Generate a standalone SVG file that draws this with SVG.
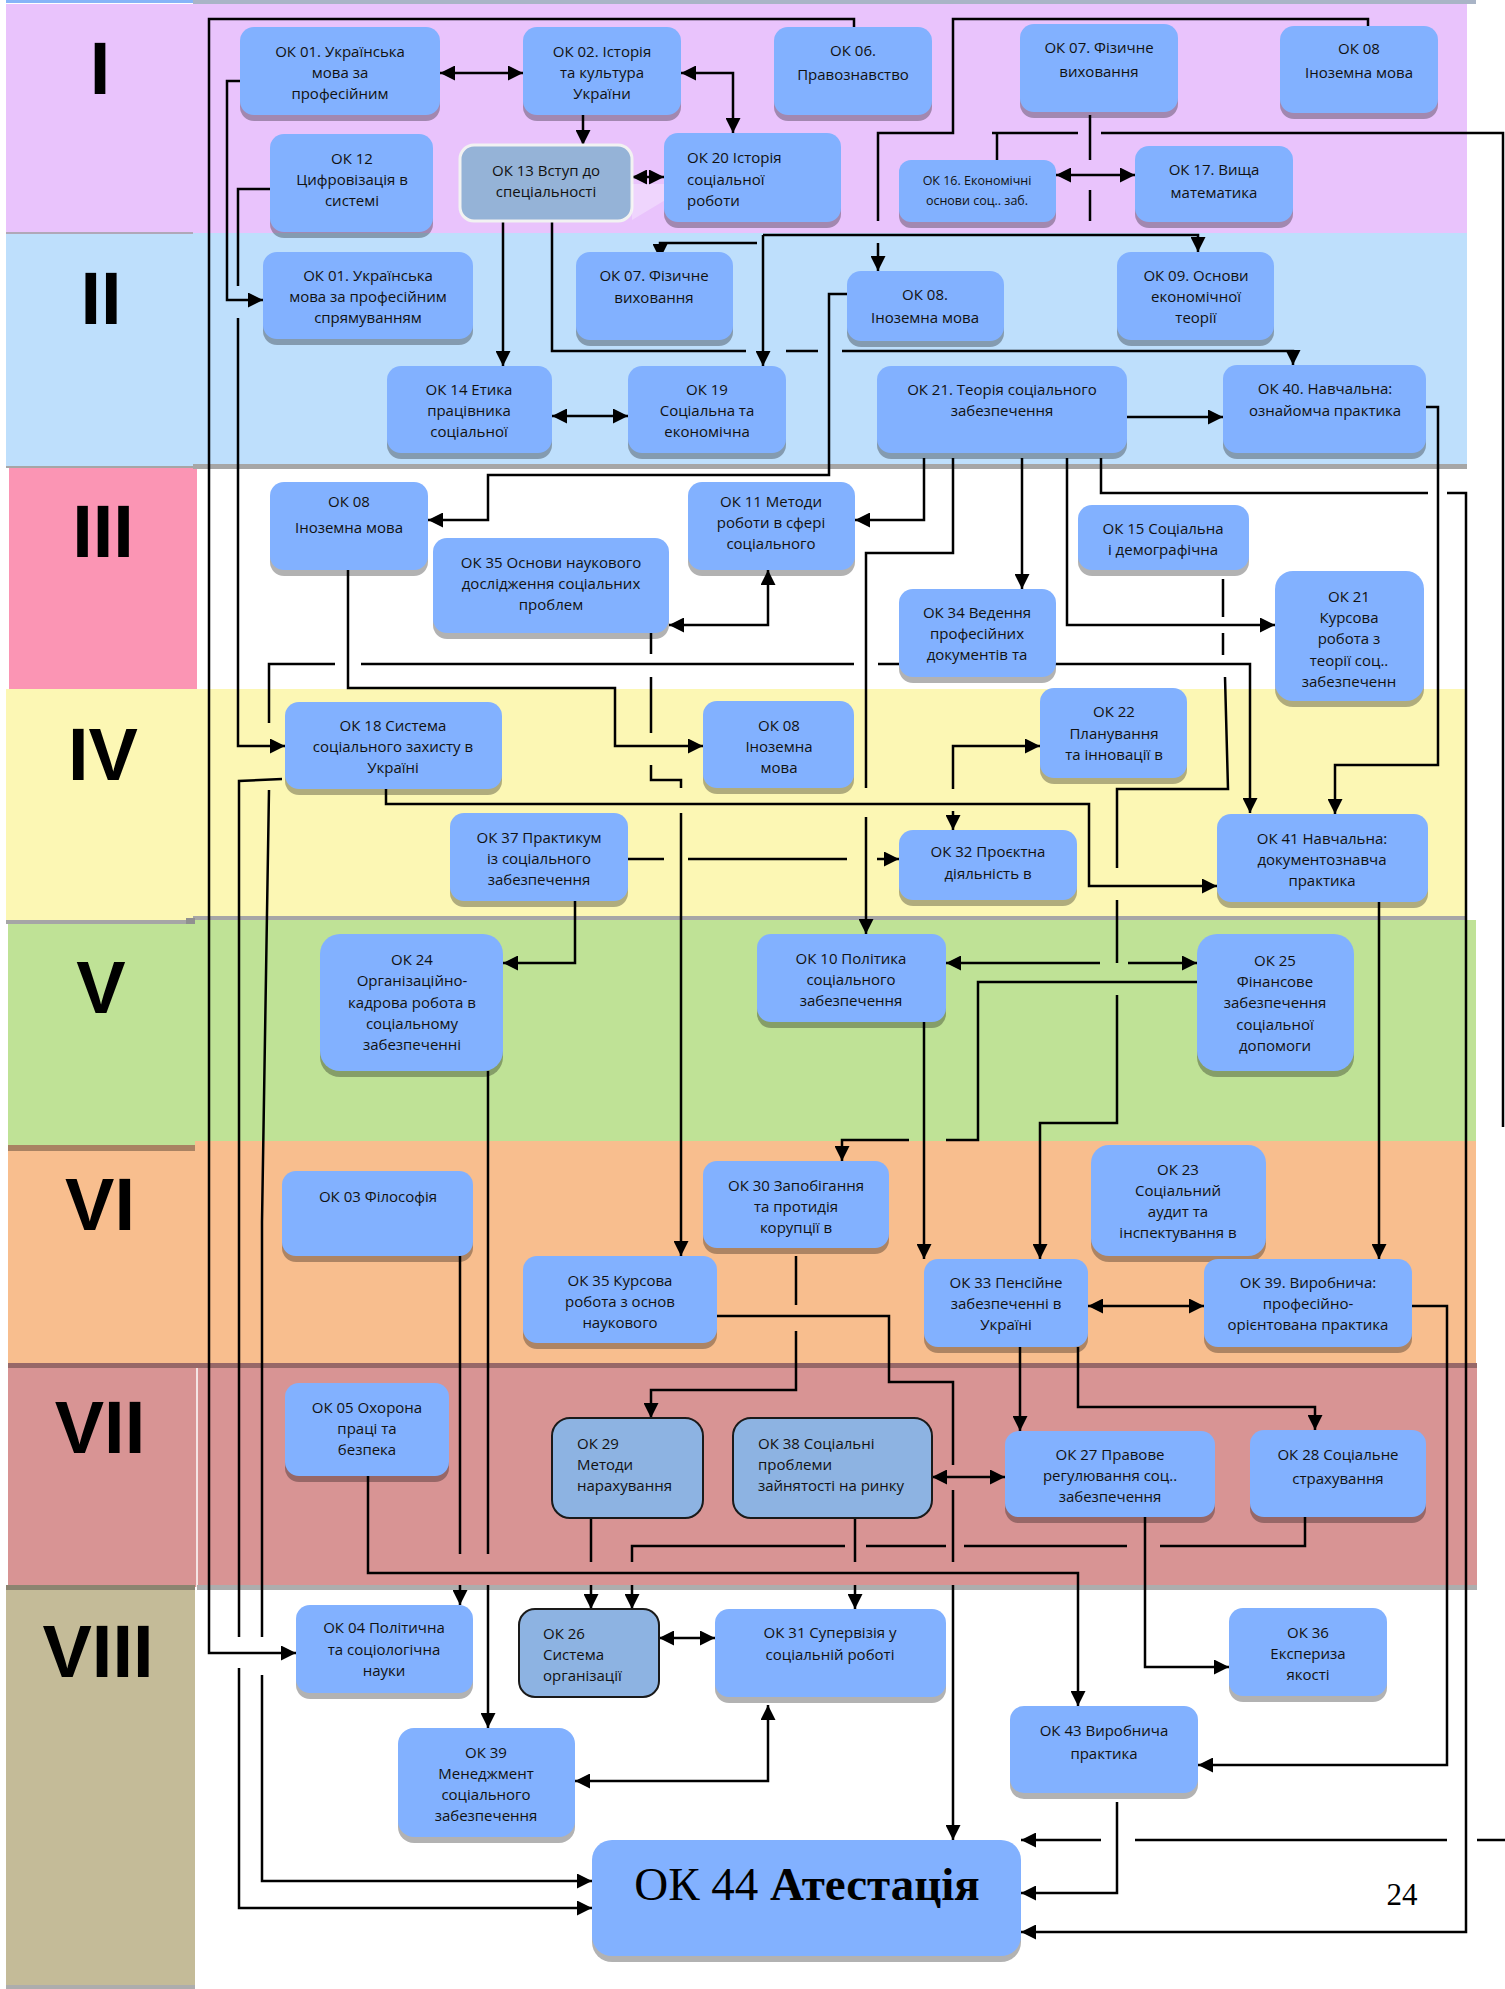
<svg xmlns="http://www.w3.org/2000/svg" width="1505" height="1989" viewBox="0 0 1505 1989">
<style>
.n{fill:#82B1FF}
.sh{fill:#000;opacity:.3}
.o{fill:#8DB3E2;stroke:#1A1A1A;stroke-width:2}
.t{font-family:"Open Sans","Liberation Sans",sans-serif;font-size:15px;fill:#111;text-anchor:middle}
.tl{font-family:"Open Sans","Liberation Sans",sans-serif;font-size:15px;fill:#111;text-anchor:start}
.rn{font-family:"Liberation Sans",Arial,sans-serif;font-weight:bold;font-size:74px;fill:#000;text-anchor:middle}
.c path{fill:none;stroke:#000;stroke-width:2.5}
</style>
<defs>
<marker id="a" viewBox="0 0 10 10" refX="10" refY="5" markerWidth="15" markerHeight="15" markerUnits="userSpaceOnUse" orient="auto-start-reverse"><path d="M0,0 L10,5 L0,10 z" fill="#000"/></marker>
</defs>
<rect width="1505" height="1989" fill="#fff"/>
<g id="bands">
<rect x="6" y="4" width="1461" height="229" fill="#E9C3FC"/>
<rect x="6" y="233" width="1461" height="234" fill="#BEDFFC"/>
<rect x="9" y="467" width="188" height="222" fill="#FB95B4"/>
<rect x="6" y="689" width="1461" height="231" fill="#FCF7B4"/>
<rect x="8" y="920" width="1468" height="225" fill="#BFE296"/>
<rect x="195" y="1141" width="1281" height="4" fill="#F8BE8E"/>
<rect x="8" y="1145" width="1468" height="221" fill="#F8BE8E"/>
<rect x="8" y="1366" width="1469" height="221" fill="#D89494"/>
<rect x="6" y="1587" width="189" height="400" fill="#C4BB98"/>
<rect x="6" y="0" width="187" height="3" fill="#86B4F8"/>
<rect x="193" y="0" width="1283" height="4" fill="#A9B4C6"/>
<rect x="6" y="232" width="187" height="2" fill="#B0A8B8"/>
<rect x="193" y="464" width="1274" height="5" fill="#A6A6A6"/>
<rect x="6" y="466" width="187" height="2" fill="#A6A6A6"/>
<rect x="193" y="916" width="1274" height="4" fill="#A6A6A6"/>
<rect x="6" y="920" width="189" height="4" fill="#A6A6A6"/>
<rect x="186" y="918" width="9" height="6" fill="#909090"/>
<rect x="8" y="1145" width="187" height="6" fill="#A98262"/>
<rect x="8" y="1363" width="1469" height="5" fill="#976868"/>
<rect x="196" y="1368" width="2" height="219" fill="#F4E4E4"/>
<rect x="6" y="1585" width="189" height="5" fill="#8B8470"/>
<rect x="197" y="1585" width="1280" height="5" fill="#ADADAD"/>
<rect x="6" y="1985" width="189" height="4" fill="#ADADAD"/>
<text class="rn" x="100" y="94">I</text>
<text class="rn" x="101" y="324">II</text>
<text class="rn" x="103" y="557">III</text>
<text class="rn" x="103" y="780">IV</text>
<text class="rn" x="101" y="1013">V</text>
<text class="rn" x="100" y="1230">VI</text>
<text class="rn" x="100" y="1453">VII</text>
<text class="rn" x="98" y="1677">VIII</text>
</g>
<g id="connectors" class="c">
<path d="M854,27 V19 H209 V1653 H296" marker-end="url(#a)"/>
<path d="M1368,26 V19 H953 V133 H878 V221"/>
<path d="M878,243 V271" marker-end="url(#a)"/>
<path d="M1090,115 V160 M1090,190 V221"/>
<path d="M763,235 H1198 V252" marker-end="url(#a)"/>
<path d="M763,235 V366" marker-end="url(#a)"/>
<path d="M757,243 H660 V259" marker-end="url(#a)"/>
<path d="M992,133 H997 V160 M997,133 H1078 M1101,133 H1503 V1127 M1505,1840 H1477 M1447,1840 H1135"/>
<path d="M1101,1840 H1021" marker-end="url(#a)"/>
<path d="M1056,175 H1135" marker-start="url(#a)" marker-end="url(#a)"/>
<path d="M440,73 H523" marker-start="url(#a)" marker-end="url(#a)"/>
<path d="M681,73 H733 V133" marker-start="url(#a)" marker-end="url(#a)"/>
<path d="M583,115 V145" marker-end="url(#a)"/>
<path d="M632,177 H664" marker-start="url(#a)" marker-end="url(#a)"/>
<path d="M503,221 V366" marker-end="url(#a)"/>
<path d="M552,221 V351 H746 M786,351 H818"/>
<path d="M842,351 H1293 V365" marker-end="url(#a)"/>
<path d="M847,294 H829 V475 H488 V520 H428" marker-end="url(#a)"/>
<path d="M552,416 H628" marker-start="url(#a)" marker-end="url(#a)"/>
<path d="M1127,417 H1223" marker-end="url(#a)"/>
<path d="M240,81 H227 V300 H263" marker-end="url(#a)"/>
<path d="M270,189 H238 V286"/>
<path d="M238,318 V746 H285" marker-end="url(#a)"/>
<path d="M282,779 L239,781 V1637"/>
<path d="M239,1668 V1908 H592" marker-end="url(#a)"/>
<path d="M899,664 H878 M854,664 H361 M335,664 H269 V723 M269,790 L262,1222 V1637"/>
<path d="M262,1675 V1881 H592" marker-end="url(#a)"/>
<path d="M348,570 V688 H615 V746 H703" marker-end="url(#a)"/>
<path d="M924,458 V520 H855" marker-end="url(#a)"/>
<path d="M953,458 V553 H866 V788"/>
<path d="M866,817 V934" marker-end="url(#a)"/>
<path d="M1022,458 V589" marker-end="url(#a)"/>
<path d="M1067,458 V625 H1275" marker-end="url(#a)"/>
<path d="M1101,458 V493 H1428 M1447,493 H1466 V1932 H1021" marker-end="url(#a)"/>
<path d="M1426,407 H1438 V765 H1335 V814" marker-end="url(#a)"/>
<path d="M1052,664 H1250 V813" marker-end="url(#a)"/>
<path d="M1223,579 V617 M1223,633 V655 M1225,677 L1228,789 H1117 V868 M1117,900 V963 M1117,995 V1123 H1040 V1259" marker-end="url(#a)"/>
<path d="M386,789 V804 H1089 V886 H1217" marker-end="url(#a)"/>
<path d="M953,789 V746 H1040" marker-end="url(#a)"/>
<path d="M953,811 V830" marker-end="url(#a)"/>
<path d="M628,859 H664 M688,859 H847 M877,859 H899" marker-end="url(#a)"/>
<path d="M575,901 V963 H503" marker-end="url(#a)"/>
<path d="M651,633 V654 M651,677 V733 M651,765 V780 H681 V788"/>
<path d="M681,813 V1256" marker-end="url(#a)"/>
<path d="M669,625 H768 V570" marker-start="url(#a)" marker-end="url(#a)"/>
<path d="M946,963 H1100" marker-start="url(#a)"/>
<path d="M1128,963 H1197" marker-end="url(#a)"/>
<path d="M1197,982 H978 V1140 H946 M909,1140 H842 V1161" marker-end="url(#a)"/>
<path d="M924,1022 V1259" marker-end="url(#a)"/>
<path d="M1379,902 V1259" marker-end="url(#a)"/>
<path d="M1088,1306 H1204" marker-start="url(#a)" marker-end="url(#a)"/>
<path d="M1412,1306 H1447 V1765 H1198" marker-end="url(#a)"/>
<path d="M1020,1347 V1431" marker-end="url(#a)"/>
<path d="M1078,1347 V1407 H1315 V1430" marker-end="url(#a)"/>
<path d="M932,1477 H1005" marker-start="url(#a)" marker-end="url(#a)"/>
<path d="M717,1316 H889 V1382 H953 V1465 M953,1490 V1562 M953,1585 V1840" marker-end="url(#a)"/>
<path d="M796,1256 V1305 M796,1331 V1390 H651 V1418" marker-end="url(#a)"/>
<path d="M591,1518 V1562 M591,1585 V1609" marker-end="url(#a)"/>
<path d="M1305,1517 V1546 H1160 M1127,1546 H964 M946,1546 H866 M845,1546 H632 V1562 M632,1585 V1609" marker-end="url(#a)"/>
<path d="M855,1518 V1562 M855,1585 V1609" marker-end="url(#a)"/>
<path d="M368,1476 V1573 H1078 V1706" marker-end="url(#a)"/>
<path d="M460,1256 V1554 M460,1585 V1605" marker-end="url(#a)"/>
<path d="M488,1071 V1554 M488,1585 V1728" marker-end="url(#a)"/>
<path d="M659,1638 H715" marker-start="url(#a)" marker-end="url(#a)"/>
<path d="M575,1781 H768 V1705" marker-start="url(#a)" marker-end="url(#a)"/>
<path d="M1117,1802 V1893 H1021" marker-end="url(#a)"/>
<path d="M1145,1517 V1667 H1229" marker-end="url(#a)"/>
</g>
<g id="ok01a"><rect class="sh" x="240" y="33" width="200" height="88" rx="14"/><rect class="n" x="240" y="27" width="200" height="88" rx="14"/><text class="t"><tspan x="340" y="57">ОК 01. Українська</tspan><tspan x="340" y="78">мова за</tspan><tspan x="340" y="99">професійним</tspan></text></g>
<g id="ok02"><rect class="sh" x="523" y="33" width="158" height="88" rx="14"/><rect class="n" x="523" y="27" width="158" height="88" rx="14"/><text class="t"><tspan x="602" y="57">ОК 02. Історія</tspan><tspan x="602" y="78">та культура</tspan><tspan x="602" y="99">України</tspan></text></g>
<g id="ok06"><rect class="sh" x="774" y="33" width="158" height="88" rx="14"/><rect class="n" x="774" y="27" width="158" height="88" rx="14"/><text class="t"><tspan x="853" y="56">ОК 06.</tspan><tspan x="853" y="80">Правознавство</tspan></text></g>
<g id="ok07a"><rect class="sh" x="1020" y="30" width="158" height="88" rx="14"/><rect class="n" x="1020" y="24" width="158" height="88" rx="14"/><text class="t"><tspan x="1099" y="53">ОК 07. Фізичне</tspan><tspan x="1099" y="77">виховання</tspan></text></g>
<g id="ok08a"><rect class="sh" x="1280" y="32" width="158" height="87" rx="14"/><rect class="n" x="1280" y="26" width="158" height="87" rx="14"/><text class="t"><tspan x="1359" y="54">ОК 08</tspan><tspan x="1359" y="78">Іноземна мова</tspan></text></g>
<g id="ok12"><rect class="sh" x="270" y="140" width="163" height="98" rx="14"/><rect class="n" x="270" y="134" width="163" height="98" rx="14"/><text class="t"><tspan x="352" y="164">ОК 12</tspan><tspan x="352" y="185">Цифровізація в</tspan><tspan x="352" y="206">системі</tspan></text></g>
<g id="ok13"><rect x="460" y="145" width="172" height="76" rx="14" fill="#95B3D7" stroke="#F2F2F2" stroke-width="3"/><polygon points="632,184 692,184 632,220" fill="#fff" opacity="0.3"/><text class="t"><tspan x="546" y="176">ОК 13 Вступ до</tspan><tspan x="546" y="197">спеціальності</tspan></text></g>
<g id="ok20"><rect class="sh" x="664" y="139" width="177" height="89" rx="14"/><rect class="n" x="664" y="133" width="177" height="89" rx="14"/><text class="tl"><tspan x="687" y="163">ОК 20 Історія</tspan><tspan x="687" y="185">соціальної</tspan><tspan x="687" y="206">роботи</tspan></text></g>
<g id="ok16"><rect class="sh" x="899" y="166" width="157" height="62" rx="12"/><rect class="n" x="899" y="160" width="157" height="62" rx="12"/><text class="t" style="font-size:12.5px"><tspan x="977" y="185">ОК 16. Економічні</tspan><tspan x="977" y="205">основи соц.. заб.</tspan></text></g>
<g id="ok17"><rect class="sh" x="1135" y="152" width="158" height="76" rx="14"/><rect class="n" x="1135" y="146" width="158" height="76" rx="14"/><text class="t"><tspan x="1214" y="175">ОК 17. Вища</tspan><tspan x="1214" y="198">математика</tspan></text></g>
<g id="ok01b"><rect class="sh" x="263" y="258" width="210" height="87" rx="14"/><rect class="n" x="263" y="252" width="210" height="87" rx="14"/><text class="t"><tspan x="368" y="281">ОК 01. Українська</tspan><tspan x="368" y="302">мова за професійним</tspan><tspan x="368" y="323">спрямуванням</tspan></text></g>
<g id="ok07b"><rect class="sh" x="576" y="258" width="157" height="88" rx="14"/><rect class="n" x="576" y="252" width="157" height="88" rx="14"/><text class="t"><tspan x="654" y="281">ОК 07. Фізичне</tspan><tspan x="654" y="303">виховання</tspan></text></g>
<g id="ok08b"><rect class="sh" x="847" y="277" width="157" height="70" rx="14"/><rect class="n" x="847" y="271" width="157" height="70" rx="14"/><text class="t"><tspan x="925" y="300">ОК 08.</tspan><tspan x="925" y="323">Іноземна мова</tspan></text></g>
<g id="ok09"><rect class="sh" x="1117" y="258" width="157" height="88" rx="14"/><rect class="n" x="1117" y="252" width="157" height="88" rx="14"/><text class="t"><tspan x="1196" y="281">ОК 09. Основи</tspan><tspan x="1196" y="302">економічної</tspan><tspan x="1196" y="323">теорії</tspan></text></g>
<g id="ok14"><rect class="sh" x="387" y="372" width="165" height="87" rx="14"/><rect class="n" x="387" y="366" width="165" height="87" rx="14"/><text class="t"><tspan x="469" y="395">ОК 14 Етика</tspan><tspan x="469" y="416">працівника</tspan><tspan x="469" y="437">соціальної</tspan></text></g>
<g id="ok19"><rect class="sh" x="628" y="372" width="158" height="87" rx="14"/><rect class="n" x="628" y="366" width="158" height="87" rx="14"/><text class="t"><tspan x="707" y="395">ОК 19</tspan><tspan x="707" y="416">Соціальна та</tspan><tspan x="707" y="437">економічна</tspan></text></g>
<g id="ok21a"><rect class="sh" x="877" y="372" width="250" height="87" rx="14"/><rect class="n" x="877" y="366" width="250" height="87" rx="14"/><text class="t"><tspan x="1002" y="395">ОК 21. Теорія соціального</tspan><tspan x="1002" y="416">забезпечення</tspan></text></g>
<g id="ok40"><rect class="sh" x="1223" y="371" width="203" height="88" rx="14"/><rect class="n" x="1223" y="365" width="203" height="88" rx="14"/><text class="t"><tspan x="1325" y="394">ОК 40. Навчальна:</tspan><tspan x="1325" y="416">ознайомча практика</tspan></text></g>
<g id="ok08c"><rect class="sh" x="270" y="488" width="158" height="88" rx="14"/><rect class="n" x="270" y="482" width="158" height="88" rx="14"/><text class="t"><tspan x="349" y="507">ОК 08</tspan><tspan x="349" y="533">Іноземна мова</tspan></text></g>
<g id="ok11"><rect class="sh" x="688" y="488" width="167" height="88" rx="14"/><rect class="n" x="688" y="482" width="167" height="88" rx="14"/><text class="t"><tspan x="771" y="507">ОК 11 Методи</tspan><tspan x="771" y="528">роботи в сфері</tspan><tspan x="771" y="549">соціального</tspan></text></g>
<g id="ok35a"><rect class="sh" x="433" y="544" width="236" height="95" rx="14"/><rect class="n" x="433" y="538" width="236" height="95" rx="14"/><text class="t"><tspan x="551" y="568">ОК 35 Основи наукового</tspan><tspan x="551" y="589">дослідження соціальних</tspan><tspan x="551" y="610">проблем</tspan></text></g>
<g id="ok15"><rect class="sh" x="1078" y="511" width="171" height="65" rx="14"/><rect class="n" x="1078" y="505" width="171" height="65" rx="14"/><text class="t"><tspan x="1163" y="534">ОК 15 Соціальна</tspan><tspan x="1163" y="555">і демографічна</tspan></text></g>
<g id="ok34"><rect class="sh" x="899" y="595" width="157" height="88" rx="14"/><rect class="n" x="899" y="589" width="157" height="88" rx="14"/><text class="t"><tspan x="977" y="618">ОК 34 Ведення</tspan><tspan x="977" y="639">професійних</tspan><tspan x="977" y="660">документів та</tspan></text></g>
<g id="ok21b"><rect class="sh" x="1275" y="577" width="149" height="130" rx="18"/><rect class="n" x="1275" y="571" width="149" height="130" rx="18"/><text class="t"><tspan x="1349" y="602">ОК 21</tspan><tspan x="1349" y="623">Курсова</tspan><tspan x="1349" y="644">робота з</tspan><tspan x="1349" y="666">теорії соц..</tspan><tspan x="1349" y="687">забезпеченн</tspan></text></g>
<g id="ok18"><rect class="sh" x="285" y="708" width="217" height="87" rx="14"/><rect class="n" x="285" y="702" width="217" height="87" rx="14"/><text class="t"><tspan x="393" y="731">ОК 18 Система</tspan><tspan x="393" y="752">соціального захисту в</tspan><tspan x="393" y="773">Україні</tspan></text></g>
<g id="ok08d"><rect class="sh" x="703" y="707" width="151" height="87" rx="14"/><rect class="n" x="703" y="701" width="151" height="87" rx="14"/><text class="t"><tspan x="779" y="731">ОК 08</tspan><tspan x="779" y="752">Іноземна</tspan><tspan x="779" y="773">мова</tspan></text></g>
<g id="ok22"><rect class="sh" x="1040" y="694" width="147" height="90" rx="14"/><rect class="n" x="1040" y="688" width="147" height="90" rx="14"/><text class="t"><tspan x="1114" y="717">ОК 22</tspan><tspan x="1114" y="739">Планування</tspan><tspan x="1114" y="760">та інновації в</tspan></text></g>
<g id="ok37"><rect class="sh" x="450" y="819" width="178" height="88" rx="14"/><rect class="n" x="450" y="813" width="178" height="88" rx="14"/><text class="t"><tspan x="539" y="843">ОК 37 Практикум</tspan><tspan x="539" y="864">із соціального</tspan><tspan x="539" y="885">забезпечення</tspan></text></g>
<g id="ok32"><rect class="sh" x="899" y="836" width="178" height="70" rx="14"/><rect class="n" x="899" y="830" width="178" height="70" rx="14"/><text class="t"><tspan x="988" y="857">ОК 32 Проєктна</tspan><tspan x="988" y="879">діяльність в</tspan></text></g>
<g id="ok41"><rect class="sh" x="1217" y="820" width="211" height="88" rx="14"/><rect class="n" x="1217" y="814" width="211" height="88" rx="14"/><text class="t"><tspan x="1322" y="844">ОК 41 Навчальна:</tspan><tspan x="1322" y="865">документознавча</tspan><tspan x="1322" y="886">практика</tspan></text></g>
<g id="ok24"><rect class="sh" x="320" y="940" width="183" height="137" rx="20"/><rect class="n" x="320" y="934" width="183" height="137" rx="20"/><text class="t"><tspan x="412" y="965">ОК 24</tspan><tspan x="412" y="986">Організаційно-</tspan><tspan x="412" y="1008">кадрова робота в</tspan><tspan x="412" y="1029">соціальному</tspan><tspan x="412" y="1050">забезпеченні</tspan></text></g>
<g id="ok10"><rect class="sh" x="757" y="940" width="189" height="88" rx="14"/><rect class="n" x="757" y="934" width="189" height="88" rx="14"/><text class="t"><tspan x="851" y="964">ОК 10 Політика</tspan><tspan x="851" y="985">соціального</tspan><tspan x="851" y="1006">забезпечення</tspan></text></g>
<g id="ok25"><rect class="sh" x="1197" y="940" width="157" height="137" rx="20"/><rect class="n" x="1197" y="934" width="157" height="137" rx="20"/><text class="t"><tspan x="1275" y="966">ОК 25</tspan><tspan x="1275" y="987">Фінансове</tspan><tspan x="1275" y="1008">забезпечення</tspan><tspan x="1275" y="1030">соціальної</tspan><tspan x="1275" y="1051">допомоги</tspan></text></g>
<g id="ok03"><rect class="sh" x="282" y="1177" width="191" height="85" rx="14"/><rect class="n" x="282" y="1171" width="191" height="85" rx="14"/><text class="t"><tspan x="378" y="1202">ОК 03 Філософія</tspan></text></g>
<g id="ok30"><rect class="sh" x="703" y="1167" width="186" height="87" rx="14"/><rect class="n" x="703" y="1161" width="186" height="87" rx="14"/><text class="t"><tspan x="796" y="1191">ОК 30 Запобігання</tspan><tspan x="796" y="1212">та протидія</tspan><tspan x="796" y="1233">корупції в</tspan></text></g>
<g id="ok23"><rect class="sh" x="1091" y="1151" width="175" height="111" rx="18"/><rect class="n" x="1091" y="1145" width="175" height="111" rx="18"/><text class="t"><tspan x="1178" y="1175">ОК 23</tspan><tspan x="1178" y="1196">Соціальний</tspan><tspan x="1178" y="1217">аудит та</tspan><tspan x="1178" y="1238">інспектування в</tspan></text></g>
<g id="ok35b"><rect class="sh" x="523" y="1262" width="194" height="87" rx="14"/><rect class="n" x="523" y="1256" width="194" height="87" rx="14"/><text class="t"><tspan x="620" y="1286">ОК 35 Курсова</tspan><tspan x="620" y="1307">робота з основ</tspan><tspan x="620" y="1328">наукового</tspan></text></g>
<g id="ok33"><rect class="sh" x="924" y="1265" width="164" height="88" rx="14"/><rect class="n" x="924" y="1259" width="164" height="88" rx="14"/><text class="t"><tspan x="1006" y="1288">ОК 33 Пенсійне</tspan><tspan x="1006" y="1309">забезпеченні в</tspan><tspan x="1006" y="1330">Україні</tspan></text></g>
<g id="ok39a"><rect class="sh" x="1204" y="1265" width="208" height="88" rx="14"/><rect class="n" x="1204" y="1259" width="208" height="88" rx="14"/><text class="t"><tspan x="1308" y="1288">ОК 39. Виробнича:</tspan><tspan x="1308" y="1309">професійно-</tspan><tspan x="1308" y="1330">орієнтована практика</tspan></text></g>
<g id="ok05"><rect class="sh" x="285" y="1389" width="164" height="93" rx="14"/><rect class="n" x="285" y="1383" width="164" height="93" rx="14"/><text class="t"><tspan x="367" y="1413">ОК 05 Охорона</tspan><tspan x="367" y="1434">праці та</tspan><tspan x="367" y="1455">безпека</tspan></text></g>
<g id="ok29"><rect class="o" x="552" y="1418" width="151" height="100" rx="18"/><text class="tl"><tspan x="577" y="1449">ОК 29</tspan><tspan x="577" y="1470">Методи</tspan><tspan x="577" y="1491">нарахування</tspan></text></g>
<g id="ok38"><rect class="o" x="733" y="1418" width="199" height="100" rx="18"/><text class="tl"><tspan x="758" y="1449">ОК 38 Соціальні</tspan><tspan x="758" y="1470">проблеми</tspan><tspan x="758" y="1491">зайнятості на ринку</tspan></text></g>
<g id="ok27"><rect class="sh" x="1005" y="1437" width="210" height="86" rx="14"/><rect class="n" x="1005" y="1431" width="210" height="86" rx="14"/><text class="t"><tspan x="1110" y="1460">ОК 27 Правове</tspan><tspan x="1110" y="1481">регулювання соц..</tspan><tspan x="1110" y="1502">забезпечення</tspan></text></g>
<g id="ok28"><rect class="sh" x="1250" y="1436" width="176" height="87" rx="14"/><rect class="n" x="1250" y="1430" width="176" height="87" rx="14"/><text class="t"><tspan x="1338" y="1460">ОК 28 Соціальне</tspan><tspan x="1338" y="1484">страхування</tspan></text></g>
<g id="ok04"><rect class="sh" x="296" y="1611" width="177" height="88" rx="14"/><rect class="n" x="296" y="1605" width="177" height="88" rx="14"/><text class="t"><tspan x="384" y="1633">ОК 04 Політична</tspan><tspan x="384" y="1655">та соціологічна</tspan><tspan x="384" y="1676">науки</tspan></text></g>
<g id="ok26"><rect class="o" x="519" y="1609" width="140" height="88" rx="16"/><text class="tl"><tspan x="543" y="1639">ОК 26</tspan><tspan x="543" y="1660">Система</tspan><tspan x="543" y="1681">організації</tspan></text></g>
<g id="ok31"><rect class="sh" x="715" y="1615" width="231" height="88" rx="14"/><rect class="n" x="715" y="1609" width="231" height="88" rx="14"/><text class="t"><tspan x="830" y="1638">ОК 31 Супервізія у</tspan><tspan x="830" y="1660">соціальній роботі</tspan></text></g>
<g id="ok36"><rect class="sh" x="1229" y="1614" width="158" height="88" rx="14"/><rect class="n" x="1229" y="1608" width="158" height="88" rx="14"/><text class="t"><tspan x="1308" y="1638">ОК 36</tspan><tspan x="1308" y="1659">Експериза</tspan><tspan x="1308" y="1680">якості</tspan></text></g>
<g id="ok39b"><rect class="sh" x="398" y="1734" width="177" height="109" rx="16"/><rect class="n" x="398" y="1728" width="177" height="109" rx="16"/><text class="t"><tspan x="486" y="1758">ОК 39</tspan><tspan x="486" y="1779">Менеджмент</tspan><tspan x="486" y="1800">соціального</tspan><tspan x="486" y="1821">забезпечення</tspan></text></g>
<g id="ok43"><rect class="sh" x="1010" y="1712" width="188" height="87" rx="14"/><rect class="n" x="1010" y="1706" width="188" height="87" rx="14"/><text class="t"><tspan x="1104" y="1736">ОК 43 Виробнича</tspan><tspan x="1104" y="1759">практика</tspan></text></g>
<g id="ok44"><rect class="sh" x="592" y="1846" width="429" height="116" rx="20"/><rect class="n" x="592" y="1840" width="429" height="116" rx="20"/><text x="807" y="1900" text-anchor="middle" style="font-family:'Liberation Serif','Times New Roman',serif;font-size:47px;fill:#000">ОК 44 <tspan font-weight="bold">Атестація</tspan></text></g>
<text x="1402" y="1905" text-anchor="middle" style="font-family:'Liberation Serif','Times New Roman',serif;font-size:31px;fill:#000">24</text>
</svg>
